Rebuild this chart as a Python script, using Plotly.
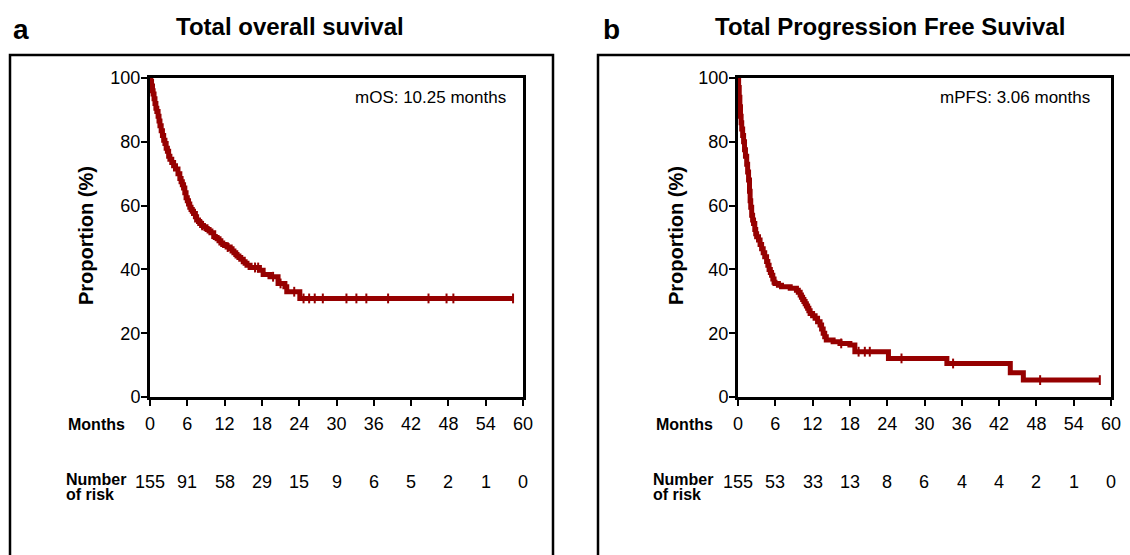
import numpy as np
import plotly.graph_objects as go

# ---------------- data ----------------
month_ticks = [0, 6, 12, 18, 24, 30, 36, 42, 48, 54, 60]
prop_ticks = [0, 20, 40, 60, 80, 100]

# Overall survival (Kaplan-Meier step points: time in months, survival %)
os_time = [0, 0.1, 0.25, 0.4, 0.5, 0.65, 0.8, 0.95, 1.1, 1.3, 1.45, 1.6, 1.8, 2.0,
           2.2, 2.4, 2.6, 2.8, 3.0, 3.2, 3.5, 3.8, 4.1, 4.5, 4.8, 5.0, 5.2, 5.4,
           5.6, 5.8, 6.0, 6.2, 6.4, 6.6, 6.8, 7.0, 7.3, 7.5, 7.8, 8.0, 8.3, 8.6,
           9.0, 9.2, 9.5, 9.8, 10.25, 10.5, 10.8, 11.1, 11.4, 11.7, 12.0, 12.4,
           12.9, 13.2, 13.5, 13.8, 14.0, 14.3, 14.6, 15.0, 15.3, 15.6, 16.1, 17.6,
           18.2, 19.3, 20.6, 21.7, 22.0, 24.1, 58.4]
os_surv = [100, 99, 97.5, 96, 95, 93.5, 92, 90.5, 89.5, 88, 86.5, 85, 83.5, 82,
           80.5, 79.5, 78, 77, 75.5, 74.5, 73.5, 72.5, 71.5, 70, 68.5, 67.5, 66.5,
           65.5, 64, 62.5, 61.5, 60.5, 59.5, 58.8, 58.2, 57.5, 56.5, 55.5, 55,
           54.4, 53.8, 53.4, 52.8, 52.5, 52, 51.5, 50.3, 50, 49.6, 49, 48.3, 47.8,
           47.5, 47, 46.5, 45.8, 45.2, 44.7, 44.2, 43.7, 43.2, 42.4, 41.9, 41.3,
           40.6, 39.7, 38.4, 37.7, 35.6, 34.6, 33.0, 30.9, 30.9]
os_censor = [8.4, 12.5, 16.9, 17.4, 19.8, 21.0, 23.2, 24.7, 25.6, 26.5, 27.8, 31.6,
             33.2, 34.8, 38.3, 44.8, 47.7, 48.8, 58.4]
os_at_risk = [155, 91, 58, 29, 15, 9, 6, 5, 2, 1, 0]

# Progression free survival
pfs_time = [0, 0.1, 0.2, 0.3, 0.4, 0.5, 0.6, 0.75, 0.9, 1.05, 1.2, 1.4, 1.55, 1.7,
            1.85, 1.95, 2.05, 2.2, 2.35, 2.5, 2.7, 2.85, 3.0, 3.3, 3.55, 3.8, 4.05,
            4.3, 4.6, 4.8, 5.0, 5.2, 5.4, 5.6, 5.8, 5.95, 6.5, 7.0, 8.4, 9.4, 9.7,
            10.0, 10.2, 10.4, 10.6, 10.8, 11.0, 11.2, 11.4, 11.6, 12.0, 12.4, 12.8,
            13.2, 13.45, 13.7, 13.95, 14.2, 15.3, 16.4, 18.0, 18.8, 24.2, 33.6,
            43.8, 45.9, 58.2]
pfs_surv = [100, 97, 94, 91, 88, 86, 84, 82, 80, 77.5, 75.5, 73, 70.5, 68, 64.5,
            61.5, 59.5, 57, 55.5, 54.4, 52.5, 51.2, 50.2, 49.2, 47.8, 46.5, 45.2,
            44, 42.5, 41.3, 40, 39, 38.2, 37, 36, 35.6, 35, 34.6, 34.1, 33.5, 32.8,
            32, 31.3, 30.6, 29.9, 29.2, 28.5, 27.8, 27, 26.2, 25.5, 24.7, 23.6,
            22.6, 21.3, 20, 18.9, 17.9, 17.3, 16.8, 16.3, 14.2, 12.1, 10.5, 7.6,
            5.3, 5.3]
pfs_censor = [16.6, 19.4, 20.4, 21.2, 26.3, 34.6, 48.6, 58.2]
pfs_at_risk = [155, 53, 33, 13, 8, 6, 4, 4, 2, 1, 0]

titles = ["Total overall suvival", "Total Progression Free Suvival"]
panel_letters = ["a", "b"]
median_texts = ["mOS: 10.25 months", "mPFS: 3.06 months"]

# ---------------- styling ----------------
W, H = 1130, 555
RED = "#960000"
FONT = "Liberation Sans, Arial, sans-serif"


def px(x):
    return x / W


def py(y):
    return 1 - y / H


def step_value(times, surv, t):
    idx = np.searchsorted(np.asarray(times), t, side="right") - 1
    return np.asarray(surv)[idx]


fig = go.Figure()

panels = [
    dict(t=os_time, s=os_surv, c=os_censor, risk=os_at_risk, xa="x", ya="y",
         x0=150, x1=523, box=(10, 553), title_x=290, letter_x=21, med_x=508,
         ylab_x=86, months_r=127, num_l=64),
    dict(t=pfs_time, s=pfs_surv, c=pfs_censor, risk=pfs_at_risk, xa="x2", ya="y2",
         x0=738, x1=1111, box=(598, 1160), title_x=890, letter_x=611, med_x=1092,
         ylab_x=676, months_r=715, num_l=651),
]


def txt(text, x, y, size, xanchor="center", xref="paper", angle=0):
    return dict(text=text, xref=xref, yref="paper", x=x, y=y, xanchor=xanchor,
                yanchor="middle", showarrow=False, textangle=angle,
                font=dict(size=size, family=FONT, color="black"))


annotations = []
shapes = []
for i, p in enumerate(panels):
    fig.add_trace(go.Scatter(
        x=p["t"], y=p["s"], mode="lines", line=dict(color=RED, width=5, shape="hv"),
        xaxis=p["xa"], yaxis=p["ya"], showlegend=False, hoverinfo="skip"))
    cy = [float(step_value(p["t"], p["s"], t)) for t in p["c"]]
    fig.add_trace(go.Scatter(
        x=p["c"], y=cy, mode="markers",
        marker=dict(symbol="line-ns", size=7, line=dict(color=RED, width=2)),
        xaxis=p["xa"], yaxis=p["ya"], showlegend=False, hoverinfo="skip",
        cliponaxis=False))

    # outer frame
    shapes.append(dict(type="rect", xref="paper", yref="paper",
                       x0=px(p["box"][0]), x1=px(p["box"][1]),
                       y0=-0.1, y1=py(55), line=dict(color="black", width=2.5)))

    annotations += [
        txt("<b>" + panel_letters[i] + "</b>", px(p["letter_x"]), py(29), 28),
        txt("<b>" + titles[i] + "</b>", px(p["title_x"]), py(27), 24),
        txt(median_texts[i], px(p["med_x"]), py(98), 17, xanchor="right"),
        txt("<b>Proportion (%)</b>", px(p["ylab_x"]), py(236), 20, angle=-90),
        txt("<b>Months</b>", px(p["months_r"]), py(424), 16, xanchor="right"),
        txt("<b>Number</b>", px(p["num_l"]), py(479), 16, xanchor="left"),
        txt("<b>of risk</b>", px(p["num_l"]), py(494), 16, xanchor="left"),
    ]
    for m, n in zip(month_ticks, p["risk"]):
        annotations.append(txt(str(n), m, py(482), 18, xref=p["xa"]))

axis_common = dict(showline=True, linecolor="black", linewidth=3, mirror=True,
                   ticks="outside", ticklen=6, tickwidth=2, tickcolor="black",
                   showgrid=False, zeroline=False,
                   tickfont=dict(size=18, family=FONT, color="black"))

layout = dict(
    width=W, height=H, margin=dict(l=0, r=0, t=0, b=0, autoexpand=False),
    paper_bgcolor="white", plot_bgcolor="white",
    annotations=annotations, shapes=shapes,
)
for i, p in enumerate(panels):
    sx = "" if i == 0 else "2"
    layout["xaxis" + sx] = dict(axis_common, domain=[px(p["x0"]), px(p["x1"])],
                                range=[0, 60], tickvals=month_ticks,
                                ticktext=[str(v) for v in month_ticks],
                                anchor="y" + sx, ticklabelstandoff=2,
                                fixedrange=True)
    layout["yaxis" + sx] = dict(axis_common, domain=[py(397), py(78)],
                                range=[0, 100], tickvals=prop_ticks,
                                anchor="x" + sx, ticklabelstandoff=-3,
                                fixedrange=True)

fig.update_layout(**layout)
fig.write_html(
    "out.html",
    config={"displayModeBar": False},
    post_script="document.body.style.margin='0px';"
                "document.body.style.overflow='hidden';",
)
